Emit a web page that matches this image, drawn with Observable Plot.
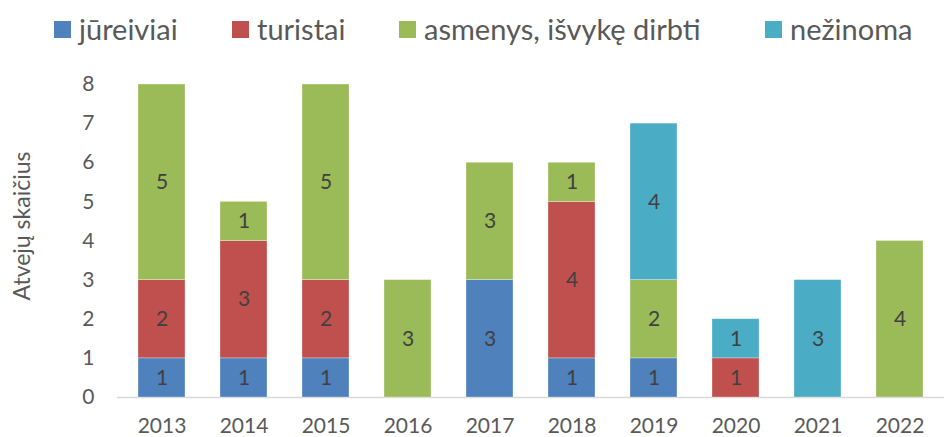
<!DOCTYPE html>
<html>
<head>
<meta charset="utf-8">
<script src="https://cdn.jsdelivr.net/npm/d3@7"></script>
<script src="https://cdn.jsdelivr.net/npm/@observablehq/plot@0.6"></script>
<style>
  html, body { margin: 0; padding: 0; background: #fff; }
  body { width: 944px; height: 437px; overflow: hidden; font-family: Lato, "Open Sans", sans-serif; }
  #legend { position: relative; height: 60px; width: 944px; }
  .item { position: absolute; top: 10px; display: flex; align-items: center; font-size: 29px; color: #595959; line-height: 38px; }
  .sw { width: 17px; height: 17px; margin-right: 8px; }
</style>
</head>
<body>
<div id="legend"></div>
<div id="chart"></div>
<script>
const years = ["2013","2014","2015","2016","2017","2018","2019","2020","2021","2022"];
const categories = ["jūreiviai", "turistai", "asmenys, išvykę dirbti", "nežinoma"];
const colors = ["#4F81BD", "#C0504D", "#9BBB59", "#4BACC6"];
const jureiviai = [1, 1, 1, 0, 3, 1, 1, 0, 0, 0];
const turistai  = [2, 3, 2, 0, 0, 4, 0, 1, 0, 0];
const asmenys   = [5, 1, 5, 3, 3, 1, 2, 0, 0, 4];
const nezinoma  = [0, 0, 0, 0, 0, 0, 4, 1, 3, 0];
const yTicks = [0, 1, 2, 3, 4, 5, 6, 7, 8];

const series = [jureiviai, turistai, asmenys, nezinoma];
const data = [];
years.forEach((y, i) => {
  categories.forEach((c, k) => {
    data.push({year: y, cat: c, value: series[k][i]});
  });
});

// legend
const legendLeft = [54, 232, 399, 765];
const legend = document.getElementById("legend");
categories.forEach((c, k) => {
  const it = document.createElement("div");
  it.className = "item";
  it.style.left = legendLeft[k] + "px";
  const sw = document.createElement("span");
  sw.className = "sw";
  sw.style.background = colors[k];
  const tx = document.createElement("span");
  tx.textContent = c;
  it.appendChild(sw);
  it.appendChild(tx);
  legend.appendChild(it);
});

const chart = Plot.plot({
  width: 944,
  height: 377,
  marginLeft: 117,
  marginRight: 0,
  marginTop: 24,
  marginBottom: 40,
  style: {fontFamily: "Lato, 'Open Sans', sans-serif", fontSize: "21px", color: "#595959", background: "#fff"},
  x: {domain: years, paddingInner: 0.43, paddingOuter: 0.215, label: null},
  y: {domain: [0, 8], label: null},
  color: {domain: categories, range: colors},
  marks: [
    Plot.ruleY([0], {stroke: "#d9d9d9", strokeWidth: 1.5}),
    Plot.barY(data, {x: "year", y: "value", fill: "cat", z: "cat", stroke: "white", strokeOpacity: 0.5, strokeWidth: 0.6}),
    Plot.text(data, Plot.stackY({
      filter: d => d.value > 0,
      x: "year", y: "value", z: "cat",
      text: d => String(d.value),
      fill: "#404040", fontSize: 21
    })),
    Plot.axisY({ticks: yTicks, tickSize: 0, tickPadding: 23, tickFormat: d => String(d), fontSize: 21, label: null}),
    Plot.axisX({tickSize: 0, tickPadding: 21, fontSize: 21, label: null}),
    Plot.text(["Atvejų skaičius"], {
      frameAnchor: "left", textAnchor: "middle", dx: -95, dy: -15, rotate: -90, fontSize: 23, fill: "#595959"
    })
  ]
});
document.getElementById("chart").appendChild(chart);
</script>
</body>
</html>
